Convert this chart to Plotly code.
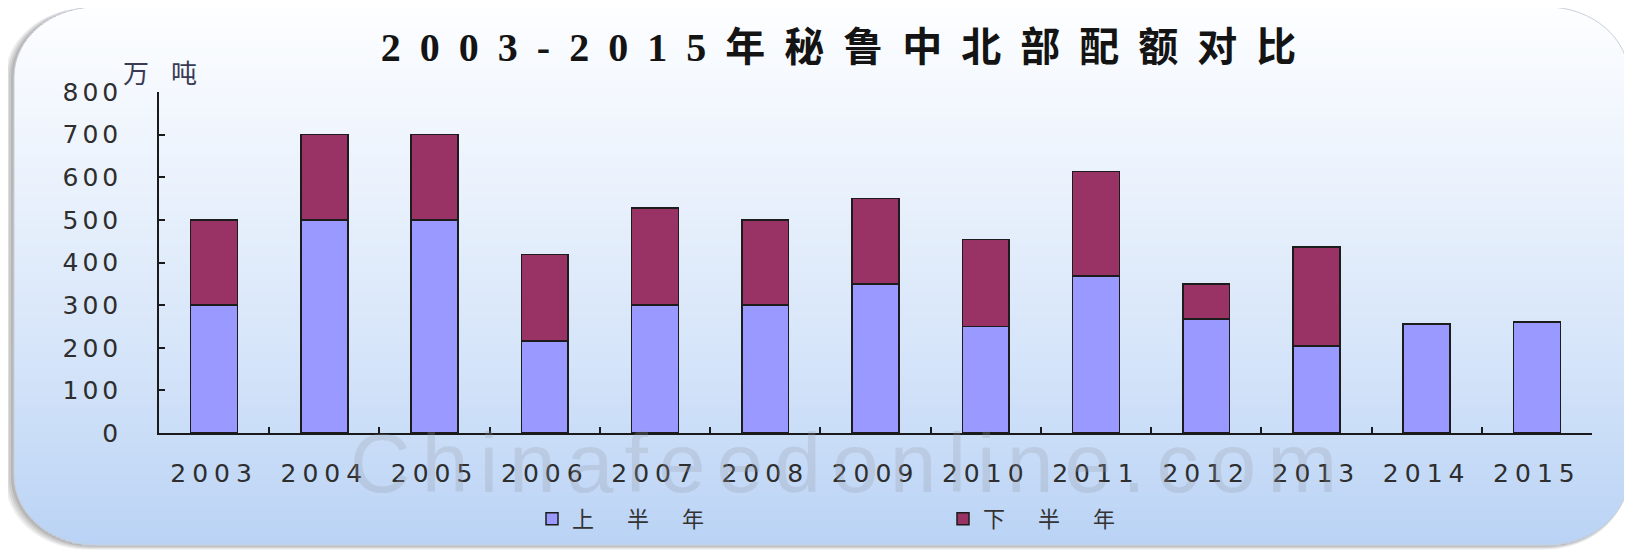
import plotly.graph_objects as go
import math

# ---------------- data ----------------
YEARS = ["2003", "2004", "2005", "2006", "2007", "2008", "2009",
         "2010", "2011", "2012", "2013", "2014", "2015"]
FIRST_HALF = [300, 500, 500, 216, 300, 300, 350, 250, 368, 267, 204, 256, 260]
SECOND_HALF = [200, 200, 200, 203, 228, 200, 200, 204, 246, 83, 232, 0, 0]
SERIES_NAMES = ["上半年", "下半年"]
Y_TICKS = [0, 100, 200, 300, 400, 500, 600, 700, 800]
TITLE = "2003-2015年秘鲁中北部配额对比"
Y_UNIT = "万吨"
WATERMARK = "Chinafeedonline.com"

# ---------------- geometry (reference pixels) ----------------
OFF = 8                      # page body margin of the html page
FIG_W, FIG_H = 1632 - OFF, 551 - OFF
L, R, T, B = 159, 1592, 92, 433


def px(x, y):
    return (x - L) / (R - L), (B - y) / (B - T)


def rrect_path(x0, y0, x1, y1, rx, ry):
    k = 0.5523

    def P(x, y):
        a, b = px(x, y)
        return f"{a:.5f},{b:.5f}"
    return (f"M{P(x0+rx, y0)} L{P(x1-rx, y0)} "
            f"C{P(x1-rx+k*rx, y0)} {P(x1, y0+ry-k*ry)} {P(x1, y0+ry)} "
            f"L{P(x1, y1-ry)} "
            f"C{P(x1, y1-ry+k*ry)} {P(x1-rx+k*rx, y1)} {P(x1-rx, y1)} "
            f"L{P(x0+rx, y1)} "
            f"C{P(x0+rx-k*rx, y1)} {P(x0, y1-ry+k*ry)} {P(x0, y1-ry)} "
            f"L{P(x0, y0+ry)} "
            f"C{P(x0, y0+ry-k*ry)} {P(x0+rx-k*rx, y0)} {P(x0+rx, y0)} Z")


CX0, CY0, CX1, CY1 = 14, 7, 1629, 545
RX, RY = 82, 70

shapes = []
# shadow
for i, op in enumerate([0.10, 0.12, 0.14, 0.16]):
    off = 9 - 2 * i
    shapes.append(dict(type="path", xref="paper", yref="paper", layer="below",
                       path=rrect_path(CX0 - off, CY0 + 1, CX1 - 2, CY1 + off * 0.5, RX, RY),
                       fillcolor=f"rgba(90,90,90,{op})", line=dict(width=0)))

# gradient strips
stops = [(7, (253, 254, 255)), (150, (238, 244, 253)), (350, (214, 229, 249)), (545, (186, 211, 245))]


def col(y):
    for (ya, ca), (yb, cb) in zip(stops[:-1], stops[1:]):
        if ya <= y <= yb:
            t = (y - ya) / (yb - ya)
            return tuple(round(ca[j] + (cb[j] - ca[j]) * t) for j in range(3))
    return stops[-1][1] if y > stops[-1][0] else stops[0][1]


step = 2
y = CY0
while y < CY1:
    y2 = min(y + step, CY1)
    ym = (y + y2) / 2
    inset = 0
    if ym < CY0 + RY:
        dy = (CY0 + RY - ym) / RY
        inset = RX * (1 - math.sqrt(max(0, 1 - dy * dy)))
    elif ym > CY1 - RY:
        dy = (ym - (CY1 - RY)) / RY
        inset = RX * (1 - math.sqrt(max(0, 1 - dy * dy)))
    c = col(ym)
    a0, b0 = px(CX0 + inset, y)
    a1, b1 = px(CX1 - inset, y2 + 0.6)
    shapes.append(dict(type="rect", xref="paper", yref="paper", layer="below",
                       x0=a0, x1=a1, y0=b1, y1=b0,
                       fillcolor=f"rgb({c[0]},{c[1]},{c[2]})", line=dict(width=0)))
    y = y2

# card outline
shapes.append(dict(type="path", xref="paper", yref="paper", layer="below",
                   path=rrect_path(CX0, CY0, CX1, CY1, RX, RY),
                   fillcolor="rgba(0,0,0,0)", line=dict(color="#c9d0da", width=1)))

# ---------------- traces ----------------
BAR_LINE = dict(color="#1c1c1c", width=1.5)
fig = go.Figure()
fig.add_trace(go.Bar(x=YEARS, y=FIRST_HALF,
                     name=f'<span style="letter-spacing:33px">{SERIES_NAMES[0]}</span>',
                     marker=dict(color="#9999ff", line=BAR_LINE)))
fig.add_trace(go.Bar(x=YEARS, y=SECOND_HALF,
                     name=f'<span style="letter-spacing:33px">{SERIES_NAMES[1]}</span>',
                     marker=dict(color="#993366", line=BAR_LINE)))

TICKFONT = dict(family="DejaVu Sans, Noto Sans", size=25, color="#2e2e2e")

fig.update_layout(
    width=FIG_W, height=FIG_H,
    margin=dict(l=L - OFF, r=FIG_W - (R - OFF), t=T - OFF, b=FIG_H - (B - OFF),
                pad=0, autoexpand=False),
    paper_bgcolor="white", plot_bgcolor="rgba(0,0,0,0)",
    barmode="stack", bargap=0.575,
    shapes=shapes,
    title=dict(text=f'<span style="letter-spacing:19px"><b>{TITLE}</b></span>',
               x=(848 - OFF) / FIG_W, xanchor="center", xref="container",
               y=1 - (47 - OFF) / FIG_H, yanchor="middle", yref="container",
               font=dict(family="Liberation Serif, Noto Sans CJK SC", size=40, color="#141414")),
    showlegend=True,
    legend=dict(orientation="h", x=(532 - L) / (R - L), xanchor="left",
                y=(B - 519) / (B - T), yanchor="middle",
                bgcolor="rgba(0,0,0,0)", entrywidthmode="pixels", entrywidth=366,
                font=dict(family="Noto Sans CJK SC", size=22, color="#333"),
                traceorder="normal"),
    font=dict(family="DejaVu Sans, Noto Sans CJK SC"),
)

fig.update_xaxes(type="category", showline=True, linecolor="#1a1a1a", linewidth=1.5,
                 ticks="inside", tickson="boundaries", ticklen=6, tickcolor="#1a1a1a",
                 tickwidth=1.5, showgrid=False, zeroline=False, automargin=False,
                 tickvals=YEARS,
                 ticktext=[f'<span style="letter-spacing:6px">{v}</span>' for v in YEARS],
                 tickfont=TICKFONT, ticklabelstandoff=17)
fig.update_yaxes(range=[0, 800], showline=True, linecolor="#1a1a1a", linewidth=1.5,
                 ticks="inside", ticklen=6, tickcolor="#1a1a1a", tickwidth=1.5,
                 showgrid=False, zeroline=False, automargin=False,
                 tickvals=Y_TICKS,
                 ticktext=[f'<span style="letter-spacing:4px">{v}</span>' for v in Y_TICKS],
                 tickfont=TICKFONT, ticklabelstandoff=30)

fig.add_annotation(text=f'<span style="letter-spacing:22px">{Y_UNIT}</span>',
                   xref="paper", yref="paper", x=px(121, 71)[0], y=px(121, 71)[1],
                   xanchor="left", yanchor="middle", showarrow=False,
                   font=dict(family="Noto Sans CJK SC", size=26, color="#3a3a55"))
fig.add_annotation(text=f'<span style="letter-spacing:11px">{WATERMARK}</span>',
                   xref="paper", yref="paper", x=px(849, 463)[0], y=px(849, 463)[1],
                   xanchor="center", yanchor="middle", showarrow=False,
                   font=dict(family="Liberation Sans", size=84, color="rgba(150,155,165,0.26)"))

fig.write_html("out.html")
